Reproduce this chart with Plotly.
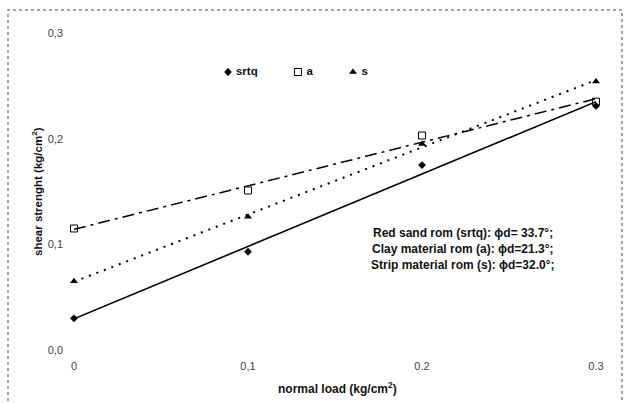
import numpy as np
import plotly.graph_objects as go

# Data
normal_load = [0.0, 0.1, 0.2, 0.3]
srtq = [0.030, 0.093, 0.175, 0.231]
a_vals = [0.115, 0.151, 0.203, 0.235]
s_vals = [0.065, 0.126, 0.195, 0.254]
series_names = ["srtq", "a", "s"]
x_tick_vals = [0.0, 0.1, 0.2, 0.3]
x_tick_text = ["0", "0,1", "0.2", "0.3"]
y_tick_vals = [0.0, 0.1, 0.2, 0.3]
y_tick_text = ["0,0", "0,1", "0,2", "0,3"]
note_lines = [
    "Red sand rom (srtq): \u03d5d= 33.7°;",
    "Clay material rom (a): \u03d5d=21.3°;",
    "Strip material rom (s): \u03d5d=32.0°;",
]

W, H = 625, 403
ML, MR, MT, MB = 74, 29, 33, 53
PW, PH = W - ML - MR, H - MT - MB

def px(x):
    return (x - ML) / PW

def py(y):
    return (H - MB - y) / PH

FONT = "Liberation Sans, Arial, sans-serif"

fig = go.Figure()

styles = [
    dict(symbol="diamond", size=6, color="black", line=dict(width=0), dash="solid", lw=1.6),
    dict(symbol="square-open", size=7, color="black", line=dict(width=1, color="#222"), dash="12px,5px,3px,5px", lw=1.5),
    dict(symbol="triangle-up", size=7, color="black", line=dict(width=0), dash="2px,6px", lw=2),
]
# legend layout positions (pixels): symbol x
legend_sym_px = [228, 298, 353]
legend_y_px = 72

xs = np.array(normal_load)
for name, ys, st, lx in zip(series_names, [srtq, a_vals, s_vals], styles, legend_sym_px):
    k, b = np.polyfit(xs, np.array(ys), 1)
    xl = np.array([xs.min(), xs.max()])
    fig.add_trace(go.Scatter(x=xl, y=k * xl + b, mode="lines", showlegend=False,
                             line=dict(color="black", width=st["lw"], dash=st["dash"]),
                             cliponaxis=False, hoverinfo="skip"))
    fig.add_trace(go.Scatter(x=normal_load, y=ys, mode="markers", name=name, showlegend=False,
                             marker=dict(symbol=st["symbol"], size=st["size"], color=st["color"], line=st["line"]),
                             cliponaxis=False))
    # legend entry on overlay pixel axes
    fig.add_trace(go.Scatter(x=[lx], y=[legend_y_px], xaxis="x2", yaxis="y2", mode="markers+text",
                             text=["\u00a0" + name], textposition="middle right", showlegend=False,
                             textfont=dict(family=FONT, size=11.5, color="#111", weight="bold"),
                             marker=dict(symbol=st["symbol"], size=st["size"], color=st["color"], line=st["line"]),
                             cliponaxis=False, hoverinfo="skip"))

fig.update_layout(
    width=W, height=H,
    margin=dict(l=ML, r=MR, t=MT, b=MB),
    paper_bgcolor="white", plot_bgcolor="white",
    font=dict(family=FONT, size=11, color="#333"),
    showlegend=False,
    xaxis=dict(range=[0, 0.3], showgrid=False, zeroline=False, showline=False,
               tickvals=x_tick_vals, ticktext=x_tick_text, ticks="", ticklabelstandoff=8,
               tickfont=dict(size=11, color="#444")),
    yaxis=dict(range=[0, 0.3], showgrid=False, zeroline=False, showline=False,
               tickvals=y_tick_vals, ticktext=y_tick_text, ticks="", ticklabelstandoff=10,
               tickfont=dict(size=11, color="#444")),
    xaxis2=dict(overlaying="x", range=[ML, W - MR], visible=False, fixedrange=True),
    yaxis2=dict(overlaying="y", range=[H - MB, MT], visible=False, fixedrange=True),
)

# outer border
fig.add_shape(type="rect", xref="paper", yref="paper",
              x0=px(8), x1=px(622), y0=py(410), y1=py(10),
              line=dict(color="#888", width=1.5, dash="dot"))

annotations = []
for i, t in enumerate(note_lines):
    annotations.append(dict(x=px(463), y=py(233 + 16 * i), xref="paper", yref="paper",
                            text=t, showarrow=False, xanchor="center", yanchor="middle",
                            font=dict(family=FONT, size=12, color="#111", weight="bold")))
annotations.append(dict(x=px(337), y=py(388), xref="paper", yref="paper",
                        text="normal load (kg/cm<sup>2</sup>)", showarrow=False,
                        xanchor="center", yanchor="middle",
                        font=dict(family=FONT, size=12, color="#111", weight="bold")))
annotations.append(dict(x=px(37), y=py(192), xref="paper", yref="paper",
                        text="shear strenght (kg/cm<sup>2</sup>)", showarrow=False, textangle=-90,
                        xanchor="center", yanchor="middle",
                        font=dict(family=FONT, size=11.5, color="#111", weight="bold")))
fig.update_layout(annotations=annotations)

fig.write_html("out.html")
